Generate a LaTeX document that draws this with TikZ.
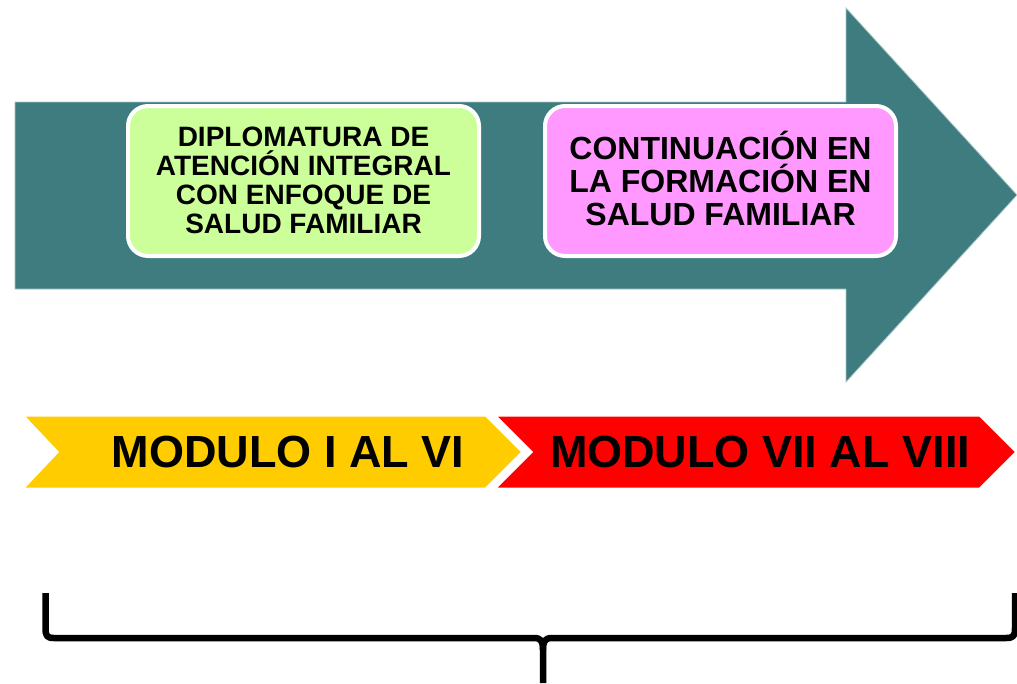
\documentclass[tikz,border=0pt]{standalone}
\usepackage{fontspec}
\setmainfont{Liberation Sans}
\definecolor{teal1}{HTML}{3E7C7F}
\definecolor{tealedge}{HTML}{A9C6C7}
\definecolor{lgreen}{HTML}{CCFF99}
\definecolor{lpink}{HTML}{FF99FF}
\definecolor{yel}{HTML}{FFCC00}
\definecolor{rd}{HTML}{FF0000}
\tikzset{
  roundbox/.style={draw=white, line width=4pt, rounded corners=20pt, inner sep=0pt,
    minimum width=351pt, minimum height=150pt, align=center},
  chev/.style={draw=white, line width=3pt, line join=miter},
  chevtext/.style={font=\fontsize{45}{50}\selectfont\bfseries, inner sep=0pt},
}
\begin{document}
\begin{tikzpicture}[x=1pt,y=-1pt]
\useasboundingbox (0,0) rectangle (1017,683);
\fill[white] (0,0) rectangle (1017,683);
% big arrow
\draw[fill=teal1, draw=tealedge, line width=0.8pt]
  (15,102) -- (846,102) -- (846,8) -- (1017,195) -- (846,382) -- (846,289) -- (15,289) -- cycle;
% boxes
\node[roundbox, fill=lgreen] (dipl) at (303.5,181) {};
\node[font=\fontsize{28}{29}\selectfont\bfseries, align=center, inner sep=0pt] (dipltext) at (303.5,180)
  {DIPLOMATURA DE\\ATENCIÓN INTEGRAL\\CON ENFOQUE DE\\SALUD FAMILIAR};
\node[roundbox, fill=lpink] (cont) at (720.5,181) {};
\node[font=\fontsize{32}{33}\selectfont\bfseries, align=center, inner sep=0pt] (conttext) at (720.5,178)
  {CONTINUACIÓN EN\\LA FORMACIÓN EN\\SALUD FAMILIAR};
% chevrons
\draw[chev, fill=rd] (494,415) -- (980,415) -- (1017,452) -- (980,489) -- (494,489) -- (531,452) -- cycle;
\draw[chev, fill=yel] (22,415) -- (486,415) -- (523,452) -- (486,489) -- (22,489) -- (57,452) -- cycle;
\node[chevtext] (m1) at (288,452) {MODULO I AL VI};
\node[chevtext] (m2) at (760,452) {MODULO VII AL VIII};
% brace
\coordinate (bl) at (45.5,593);
\coordinate (br) at (1015,593);
\coordinate (bm) at (543,683);
\draw[line width=6.5pt, line cap=butt, line join=round]
  (bl) -- (45.5,628) .. controls (45.5,636) and (47,638) .. (54,638)
  -- (534,638) .. controls (541,638) and (543,641) .. (543,650) -- (bm);
\draw[line width=6.5pt, line cap=butt, line join=round]
  (br) -- (1015,628) .. controls (1015,636) and (1013.5,638) .. (1006,638)
  -- (552,638) .. controls (545,638) and (543,641) .. (543,650);
\end{tikzpicture}
\end{document}
